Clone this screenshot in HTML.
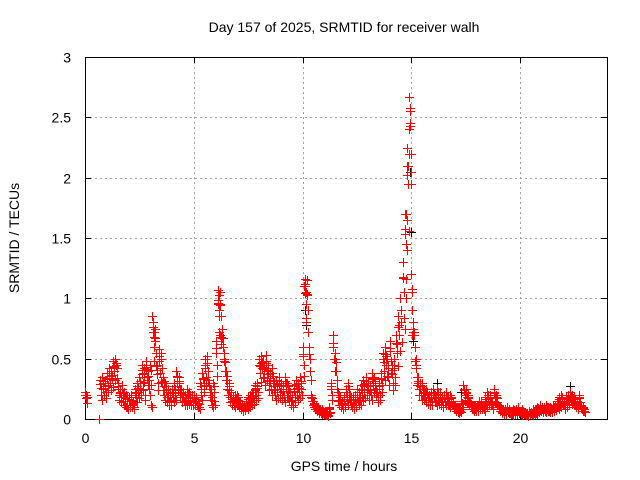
<!DOCTYPE html>
<html><head><meta charset="utf-8"><style>
body{margin:0;background:#fff}
svg{display:block;font-family:"Liberation Sans",sans-serif}
</style></head><body>
<svg id="chart" width="640" height="480">
<rect width="640" height="480" fill="#fff"/>
<g id="grid"></g>
<g id="axes"></g>
<g id="marks" shape-rendering="crispEdges"></g>
<text x="344" y="32" font-size="14" text-anchor="middle">Day 157 of 2025, SRMTID for receiver walh</text>
<text x="344" y="471" font-size="14" text-anchor="middle">GPS time / hours</text>
<text x="0" y="0" font-size="14" text-anchor="middle" transform="translate(19,238) rotate(-90)">SRMTID / TECUs</text>
</svg>
<script>
const xTicks=[0,5,10,15,20];
const yTicks=[0,0.5,1,1.5,2,2.5,3];
const yTickLabels=["0","0.5","1","1.5","2","2.5","3"];
const redHigh=[0.22,0.18,null,null,null,null,null,0.32,0.35,0.3,
0.38,0.42,0.4,0.48,0.5,0.3,0.25,0.28,0.22,0.2,
0.18,0.2,0.15,0.25,0.3,0.35,0.45,0.42,0.48,0.4,
0.45,0.85,0.75,0.45,0.58,0.55,0.35,0.3,0.25,0.22,
0.25,0.3,0.4,0.35,0.25,0.22,0.2,0.25,0.22,0.2,
0.2,0.18,0.15,0.3,0.38,0.5,0.52,0.3,0.25,0.3,
0.65,1.07,1.05,0.75,0.55,0.4,0.3,0.22,0.18,0.2,
0.2,0.15,0.12,0.12,0.15,0.18,0.2,0.22,0.28,0.3,
0.5,0.52,0.48,0.53,0.45,0.38,0.42,0.3,0.32,0.35,
0.3,0.28,0.35,0.3,0.25,0.2,0.28,0.32,0.3,0.35,
0.6,1.16,1.15,0.6,0.2,0.15,0.12,0.1,0.08,0.08,
0.06,0.05,0.1,0.3,0.7,0.55,0.25,0.2,0.15,0.18,
0.25,0.3,0.2,0.18,0.2,0.25,0.22,0.28,0.32,0.35,
0.3,0.28,0.38,0.35,0.25,0.3,0.38,0.55,0.6,0.5,
0.65,0.45,0.5,0.7,0.85,1.0,1.3,1.7,2.25,2.67,
1.2,0.8,0.5,0.35,0.3,0.3,0.25,0.25,0.2,0.22,
0.25,0.2,0.25,0.22,0.18,0.2,0.22,0.18,0.2,0.15,
0.12,0.1,0.1,0.15,0.28,0.25,0.2,0.15,0.12,0.12,
0.12,0.15,0.14,0.12,0.18,0.22,0.2,0.15,0.25,0.2,
0.12,0.1,0.08,0.08,0.1,0.08,0.07,0.08,0.08,0.1,
0.06,0.08,0.06,0.05,0.07,0.06,0.08,0.08,0.1,0.12,
0.1,0.1,0.12,0.1,0.1,0.12,0.12,0.15,0.18,0.2,
0.15,0.18,0.2,0.22,0.2,0.18,0.15,0.2,0.12,0.1];
const redLow=[0.17,null,null,null,null,null,0,0.2,0.25,0.22,
0.28,0.3,0.33,0.4,0.42,0.2,0.18,0.15,0.12,0.1,
0.12,0.12,0.1,0.18,0.22,0.25,0.3,0.2,0.35,0.25,
0.12,0.6,0.55,0.3,0.38,0.3,0.2,0.18,0.15,0.15,
0.18,0.2,0.3,0.25,0.18,0.15,0.15,0.16,0.15,0.14,
0.14,0.12,0.1,0.2,0.28,0.35,0.4,0.2,0.12,0.15,
0.45,0.9,0.85,0.6,0.4,0.25,0.18,0.15,0.12,0.14,
0.12,0.1,0.08,0.09,0.1,0.12,0.14,0.16,0.2,0.22,
0.38,0.42,0.35,0.4,0.3,0.25,0.3,0.2,0.22,0.22,
0.2,0.18,0.25,0.2,0.15,0.12,0.18,0.2,0.22,0.25,
0.45,1.05,0.9,0.4,0.15,0.1,0.08,0.06,0.05,0.05,
0.04,0.03,0.06,0.2,0.5,0.4,0.15,0.12,0.1,0.12,
0.15,0.2,0.12,0.1,0.12,0.15,0.15,0.2,0.22,0.25,
0.2,0.2,0.28,0.25,0.18,0.2,0.28,0.4,0.45,0.35,
0.48,0.3,0.35,0.55,0.7,0.8,1.05,1.45,1.95,2.43,
0.9,0.6,0.35,0.25,0.2,0.2,0.18,0.16,0.14,0.15,
0.18,0.14,0.16,0.15,0.12,0.14,0.15,0.12,0.14,0.1,
0.08,0.06,0.07,0.1,0.2,0.18,0.14,0.1,0.08,0.08,
0.08,0.1,0.1,0.08,0.12,0.15,0.14,0.1,0.18,0.14,
0.08,0.06,0.05,0.05,0.06,0.05,0.04,0.05,0.05,0.06,
0.04,0.05,0.04,0.03,0.05,0.04,0.05,0.05,0.07,0.08,
0.07,0.07,0.08,0.07,0.07,0.08,0.09,0.1,0.12,0.14,
0.1,0.12,0.14,0.16,0.14,0.12,0.1,0.14,0.08,0.07];
const spikeTimes=[3.12,3.15,3.18,6.1,6.15,6.18,6.22,6.25,10.08,10.12,10.15,10.18,14.7,14.75,14.78,14.8,14.82,14.85,14.87,14.9,14.92,14.95,14.97,15.0,15.05,15.1];
const spikeValues=[0.8,0.72,0.68,0.95,1.03,0.85,0.7,0.62,1.1,1.12,0.95,0.8,0.75,1.0,1.7,1.4,1.65,1.95,2.1,2.2,2.45,2.58,2.05,2.2,0.7,0.75];
const blackTimes=[10.1,10.15,14.95,15.0,15.1,16.2,17.3,22.3];
const blackValues=[0.9,0.78,2.05,1.55,0.65,0.3,0.22,0.27];

const X0=85,X1=607,Y0=419,Y1=57;
const xs=t=>X0+t*(X1-X0)/24;
const ys=v=>Y0-v*(Y0-Y1)/3;
const NS="http://www.w3.org/2000/svg";
function mk(tag,attrs,parent){const e=document.createElementNS(NS,tag);for(const k in attrs)e.setAttribute(k,attrs[k]);parent.appendChild(e);return e;}
const grid=document.getElementById('grid'),axes=document.getElementById('axes'),marks=document.getElementById('marks');
yTicks.forEach((v,i)=>{
  const y=Math.round(ys(v))+0.5;
  if(v>0&&v<3){const g=mk('line',{x1:X0,x2:X1,y1:y,y2:y,stroke:'#a0a0a0','stroke-dasharray':'2,3'},grid);
  
  }
  const t=mk('text',{x:X0-14,y:y+5,'font-size':14,'text-anchor':'end'},axes);
  t.textContent=yTickLabels[i];
  
  
  mk('line',{x1:X0,x2:X0+6,y1:y,y2:y,stroke:'#000'},axes);
  mk('line',{x1:X1,x2:X1-6,y1:y,y2:y,stroke:'#000'},axes);
});
xTicks.forEach(v=>{
  const x=Math.round(xs(v))+0.5;
  if(v>0){const g=mk('line',{x1:x,x2:x,y1:Y1,y2:Y0,stroke:'#a0a0a0','stroke-dasharray':'2,3'},grid);
  
  }
  const t=mk('text',{x:x,y:Y0+24,'font-size':14,'text-anchor':'middle'},axes);
  t.textContent=String(v);
  
  
  mk('line',{x1:x,x2:x,y1:Y0,y2:Y0-6,stroke:'#000'},axes);
  mk('line',{x1:x,x2:x,y1:Y1,y2:Y1+6,stroke:'#000'},axes);
});
const frame=mk('rect',{x:X0+0.5,y:Y1+0.5,width:X1-X0,height:Y0-Y1,fill:'none',stroke:'#000'},axes);


function plus(t,v,color){
  if(v===null)return;
  const x=Math.round(xs(t)),y=Math.round(ys(v));
  const p=mk('path',{d:`M${x-4},${y}h9v1h-9zM${x},${y-4}h1v9h-1z`,fill:color},marks);
  
  
}
blackTimes.forEach((t,i)=>plus(t,blackValues[i],'#000'));
redHigh.forEach((v,i)=>plus(i*0.1,v,'#f00'));
redLow.forEach((v,i)=>plus(i*0.1+0.05,v,'#f00'));
redHigh.forEach((v,i)=>{const w=redLow[i];if(v!==null&&w!==null){plus(i*0.1+0.025,(v+w)/2,'#f00');plus(i*0.1+0.075,w*0.8,'#f00');plus(i*0.1+0.012,v*0.9,'#f00');}});
spikeTimes.forEach((t,i)=>plus(t,spikeValues[i],'#f00'));
</script>
</body></html>
